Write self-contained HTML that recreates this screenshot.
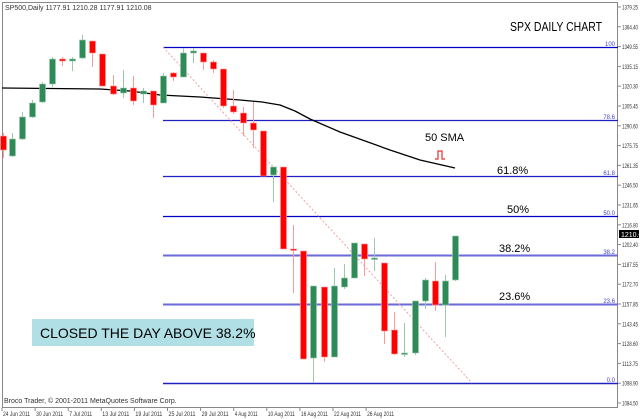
<!DOCTYPE html>
<html><head><meta charset="utf-8"><style>
body{margin:0;background:#fff;}
svg{display:block;font-family:"Liberation Sans",sans-serif;}
</style></head><body>
<svg id="s" width="640" height="419" xmlns="http://www.w3.org/2000/svg">
<rect x="0" y="0" width="640" height="419" fill="#fff"/>
<rect x="2.5" y="2.5" width="615" height="405" fill="none" stroke="#888" stroke-width="1"/>
<text x="5" y="10" font-size="7" fill="#333">SP500,Daily  1177.91 1210.28 1177.91 1210.08</text>
<text x="510" y="31" font-size="12.5" fill="#000" textLength="92" lengthAdjust="spacingAndGlyphs">SPX DAILY CHART</text>
<g stroke-width="1.2">
<line x1="163" y1="47.5" x2="618" y2="47.5" stroke="#0000c8"/>
<line x1="163" y1="120.5" x2="618" y2="120.5" stroke="#2020c0"/>
<line x1="163" y1="176.5" x2="618" y2="176.5" stroke="#2020c8"/>
<line x1="163" y1="216.5" x2="618" y2="216.5" stroke="#0000c8"/>
<line x1="163" y1="255.5" x2="618" y2="255.5" stroke="#6a6ad8" stroke-width="2"/>
<line x1="163" y1="304.5" x2="618" y2="304.5" stroke="#6a6ad8" stroke-width="2"/>
<line x1="163" y1="383.5" x2="618" y2="383.5" stroke="#2020c0" stroke-width="1.6"/>
</g>
<g font-size="6" fill="#4444cc" text-anchor="end">
<text x="615" y="46">100</text><text x="615" y="119">78.6</text><text x="615" y="175">61.8</text>
<text x="615" y="215">50.0</text><text x="615" y="254">38.2</text><text x="615" y="303">23.6</text><text x="615" y="382">0.0</text>
</g>
<line x1="163" y1="47" x2="472" y2="383" stroke="#f4a0a0" stroke-dasharray="2,2" stroke-width="1"/>
<path d="M2,88 L100,89 L130,91 L160,95 L200,97 L240,100 L262,102 L280,105 L295,111 L310,119 L340,132 L390,150 L420,160 L455,168" fill="none" stroke="#000" stroke-width="1.3" stroke-linejoin="round"/>
<g id="c"></g>
<text x="425" y="141" font-size="11" fill="#000">50 SMA</text>
<path d="M435,159 L438,159 L438,151 L442,151 L442,159 L445,159" fill="none" stroke="#e03030" stroke-width="1.2"/>
<g font-size="11" fill="#000">
<text x="497" y="174">61.8%</text><text x="507" y="213">50%</text><text x="499" y="252">38.2%</text><text x="499" y="300">23.6%</text>
</g>
<rect x="32" y="319" width="222" height="27" fill="#b0e0e6"/>
<text x="40" y="338" font-size="14" fill="#000">CLOSED THE DAY ABOVE 38.2%</text>
<text x="4" y="403" font-size="7" fill="#333">Broco Trader, © 2001-2011 MetaQuotes Software Corp.</text>
<g id="ax" font-size="6.5" fill="#333"></g>
<rect x="619" y="230" width="20" height="8" fill="#000"/>
<text x="621" y="237" font-size="7" fill="#fff">1210.08</text>
</svg>
<script>
var C=[[3,136,150,133,158,'r'],[12,139,156,133,157,'g'],[22,117,139,112,140,'g'],[32,103,117,100,118,'g'],[42,84,102,82,103,'g'],[52,59,84,57,87,'g'],[62,59,61,57,66,'r'],[72,59,61,57,71,'g'],[82,40,58,35,59,'g'],[92,41,53,41,67,'r'],[102,54,86,54,86,'r'],[113,86,94,75,95,'r'],[123,88,93,70,98,'g'],[133,88,101,76,105,'r'],[143,91,94,88,103,'g'],[153,91,105,91,118,'r'],[163,76,103,73,103,'g'],[173,73,77,72,81,'r'],[183,53,77,48,77,'g'],[193,51,53,48,63,'g'],[203,53,62,53,70,'r'],[213,62,69,60,73,'r'],[223,69,106,69,108,'r'],[233,106,112,90,114,'r'],[243,113,123,107,136,'r'],[253,123,130,102,148,'r'],[263,131,176,131,176,'r'],[273,167,175,167,202,'g'],[283,167,249,167,249,'r'],[293,249,250,225,293,'r'],[303,251,359,251,359,'r'],[313,286,358,286,383,'g'],[324,287,357,287,362,'r'],[334,286,357,268,357,'g'],[344,278,287,264,289,'g'],[354,243,278,243,278,'g'],[364,244,259,244,276,'r'],[374,258,259,238,271,'g'],[384,263,331,263,344,'r'],[394,330,354,312,355,'r'],[404,353,354,323,357,'g'],[415,301,353,301,355,'g'],[425,280,301,278,309,'g'],[435,281,305,262,311,'r'],[445,281,305,275,337,'g'],[455,236,280,236,281,'g']];
var g=document.getElementById('c'),h='';
C.forEach(function(c){var col=c[5]=='g'?'#2e8b57':'#ff0000',wc=c[5]=='g'?'#9cc8ac':'#ff9a9a';
h+='<line x1="'+(c[0]+.5)+'" y1="'+c[3]+'" x2="'+(c[0]+.5)+'" y2="'+c[4]+'" stroke="'+wc+'" stroke-width="1"/>';
var hh=Math.max(c[2]-c[1],1.5);
h+='<rect x="'+(c[0]-2.5)+'" y="'+c[1]+'" width="6" height="'+hh+'" fill="'+col+'" stroke="'+wc+'" stroke-width="0.6"/>';});
g.innerHTML=h;
var P=['1379.25','1364.40','1349.55','1335.15','1320.30','1305.45','1290.60','1275.75','1261.35','1246.50','1231.65','1216.80','1202.40','1187.55','1172.70','1157.85','1143.45','1128.60','1113.75','1098.90','1084.50'];
var a='';P.forEach(function(p,i){var y=7+i*19.8;a+='<line x1="618" y1="'+y+'" x2="621" y2="'+y+'" stroke="#888"/><text x="622" y="'+(y+2.5)+'" textLength="16" lengthAdjust="spacingAndGlyphs">'+p+'</text>';});
var D=['24 Jun 2011','30 Jun 2011','7 Jul 2011','13 Jul 2011','19 Jul 2011','25 Jul 2011','29 Jul 2011','4 Aug 2011','10 Aug 2011','16 Aug 2011','22 Aug 2011','26 Aug 2011'];
D.forEach(function(d,i){var x=2+i*33.1;var tl=d.length==11?27:23;a+='<line x1="'+x+'" y1="408" x2="'+x+'" y2="411" stroke="#888"/><text x="'+(x+1)+'" y="416" textLength="'+tl+'" lengthAdjust="spacingAndGlyphs">'+d+'</text>';});
document.getElementById('ax').innerHTML=a;
</script>
</body></html>
